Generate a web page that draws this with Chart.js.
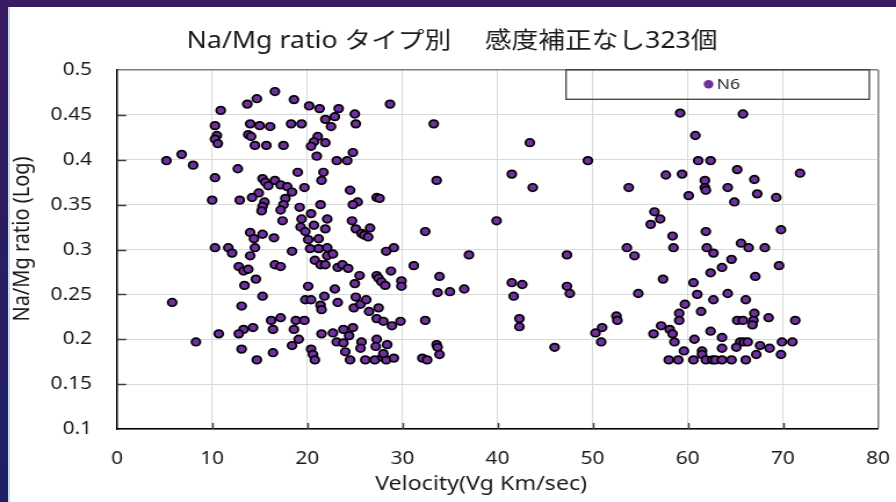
<!DOCTYPE html>
<html>
<head>
<meta charset="utf-8">
<script src="https://cdn.jsdelivr.net/npm/chart.js@4.4.1/dist/chart.umd.min.js"></script>
<style>
  html, body { margin: 0; padding: 0; }
  body {
    width: 896px; height: 502px; overflow: hidden; position: relative;
    background: linear-gradient(180deg, #3a1b60 0%, #2a1d63 50%, #1d2064 100%);
  }
  #panel {
    position: absolute; left: 8px; top: 7px; right: 0; bottom: 0;
    background: #ffffff; border-left: 2px solid #c4d8ef;
  }
  #wrap {
    position: absolute; left: 0; top: 0; width: 772px; height: 502px;
    transform: scaleX(1.16062); transform-origin: 0 0;
  }
</style>
</head>
<body>
<div id="panel"></div>
<div id="wrap"><canvas id="c" width="772" height="502"></canvas></div>
<script>
// Meteor spectra: Na/Mg intensity ratio against geocentric velocity (type N6)
const chartTitle = 'Na/Mg ratio タイプ別　 感度補正なし323個';
const seriesName = 'N6';
const xAxisTitle = 'Velocity(Vg Km/sec)';
const yAxisTitle = 'Na/Mg ratio (Log)';

const xTickValues = [0, 10, 20, 30, 40, 50, 60, 70, 80];
const xTickLabels = ['0', '10', '20', '30', '40', '50', '60', '70', '80'];
const yTickValues = [0.1, 0.15, 0.2, 0.25, 0.3, 0.35, 0.4, 0.45, 0.5];
const yTickLabels = ['0.1', '0.15', '0.2', '0.25', '0.3', '0.35', '0.4', '0.45', '0.5'];

// velocity (km/s)
const velocity = [
  10.9, 10.3, 10.5, 10.3, 10.6, 6.8, 5.2, 8.0, 10.3, 10.0, 10.3, 11.7, 12.1, 5.8, 10.7, 8.3,
  16.6, 14.7, 13.7, 18.6, 20.2, 21.3, 21.9, 14.0, 15.0, 16.1, 18.3, 19.4, 13.8, 14.1, 14.5, 15.7,
  17.5, 21.1, 20.7, 21.9, 20.4, 21.0, 12.7, 19.0, 15.3, 16.6, 21.7, 21.5, 15.6, 15.9, 17.2, 17.9,
  18.4, 19.7, 14.9, 14.2, 12.9, 15.5, 15.3, 15.2, 17.7, 17.5, 17.2, 17.4, 19.2, 20.4, 21.4, 19.4,
  19.3, 19.8, 20.7, 22.1, 21.9, 14.0, 14.4, 15.3, 16.5, 14.5, 14.0, 18.4, 20.1, 20.3, 21.2, 21.2,
  22.1, 20.8, 21.4, 21.9, 16.6, 17.2, 12.8, 13.3, 13.8, 14.6, 13.4, 15.3, 13.1, 20.1, 19.8, 20.4,
  21.8, 21.4, 21.5, 16.2, 17.2, 18.8, 19.7, 16.4, 14.3, 13.3, 12.8, 18.6, 19.1, 18.4, 21.5, 13.1,
  16.4, 14.7, 20.4, 20.6, 20.8,
  28.7, 23.3, 22.9, 22.5, 25.0, 25.1, 24.8, 23.1, 24.2, 24.5, 27.3, 27.6, 25.3, 24.8, 24.7, 25.1,
  25.7, 26.0, 26.6, 26.4, 32.4, 29.1, 28.3, 22.1, 22.7, 23.2, 23.7, 24.3, 31.2, 25.5, 25.0, 27.3,
  27.5, 27.8, 28.2, 28.8, 29.9, 29.9, 22.9, 23.2, 25.1, 24.9, 25.6, 26.2, 26.5, 27.5, 27.3, 28.0,
  28.9, 29.8, 32.4, 22.7, 23.8, 24.8, 23.1, 24.4, 23.8, 24.0, 24.5, 25.7, 25.6, 27.3, 27.2, 28.4,
  26.1, 27.1, 27.9, 28.3, 29.1, 28.0, 32.1, 32.6,
  33.3, 33.6, 37.0, 33.9, 33.7, 35.0, 36.5, 33.6, 33.7, 33.9, 39.9, 43.4, 41.5, 43.7, 41.5, 42.6,
  41.7, 42.3, 42.3, 46.0, 49.5, 47.3, 47.3, 47.6, 50.3, 51.0, 50.9,
  59.2, 65.8, 60.8, 61.1, 62.4, 65.2, 57.7, 59.4, 53.8, 61.8, 61.8, 61.9, 64.2, 60.1, 64.9, 56.5,
  57.1, 56.1, 58.4, 61.9, 65.6, 66.4, 53.6, 54.4, 58.5, 62.0, 62.7, 64.6, 63.6, 62.4, 57.4, 60.6,
  54.8, 61.0, 64.2, 62.7, 66.1, 59.7, 59.1, 61.4, 59.1, 52.5, 52.6, 57.2, 58.1, 56.4, 58.4, 58.6,
  60.7, 62.4, 63.6, 63.6, 65.2, 65.8, 65.5, 65.9, 65.1, 66.3, 59.6, 61.5, 61.5, 58.0, 59.0, 60.6,
  61.9, 62.6, 62.9, 63.6, 64.6, 66.1,
  71.8, 67.0, 67.3, 69.3, 69.8, 68.1, 69.6, 67.1, 67.0, 66.9, 68.5, 71.3, 66.8, 67.6, 68.6, 69.9,
  71.0, 67.2, 69.8
];

// Na/Mg ratio (log), same order as velocity
const naMgRatio = [
  0.455, 0.438, 0.427, 0.423, 0.418, 0.406, 0.399, 0.394, 0.380, 0.355, 0.302, 0.302, 0.296, 0.241, 0.206, 0.197,
  0.476, 0.468, 0.462, 0.467, 0.460, 0.457, 0.445, 0.440, 0.438, 0.437, 0.440, 0.440, 0.428, 0.426, 0.416, 0.416,
  0.416, 0.426, 0.420, 0.419, 0.415, 0.404, 0.390, 0.386, 0.379, 0.377, 0.386, 0.377, 0.375, 0.371, 0.372, 0.370,
  0.364, 0.369, 0.363, 0.358, 0.355, 0.353, 0.348, 0.343, 0.357, 0.350, 0.344, 0.332, 0.347, 0.340, 0.350, 0.334,
  0.325, 0.320, 0.327, 0.334, 0.323, 0.319, 0.312, 0.317, 0.313, 0.302, 0.293, 0.298, 0.311, 0.301, 0.312, 0.301,
  0.302, 0.288, 0.283, 0.283, 0.283, 0.281, 0.281, 0.276, 0.278, 0.267, 0.260, 0.248, 0.237, 0.259, 0.244, 0.244,
  0.248, 0.238, 0.233, 0.221, 0.224, 0.221, 0.221, 0.211, 0.213, 0.211, 0.206, 0.211, 0.200, 0.193, 0.206, 0.189,
  0.185, 0.177, 0.189, 0.183, 0.177,
  0.462, 0.457, 0.448, 0.437, 0.451, 0.440, 0.408, 0.399, 0.399, 0.366, 0.358, 0.357, 0.353, 0.350, 0.332, 0.323,
  0.318, 0.316, 0.324, 0.314, 0.320, 0.302, 0.298, 0.293, 0.295, 0.280, 0.283, 0.279, 0.282, 0.271, 0.262, 0.271,
  0.268, 0.264, 0.260, 0.276, 0.265, 0.259, 0.256, 0.241, 0.247, 0.235, 0.239, 0.244, 0.231, 0.235, 0.223, 0.220,
  0.215, 0.220, 0.221, 0.207, 0.211, 0.213, 0.197, 0.204, 0.196, 0.186, 0.177, 0.197, 0.190, 0.200, 0.192, 0.194,
  0.177, 0.177, 0.180, 0.177, 0.179, 0.184, 0.179, 0.177,
  0.440, 0.377, 0.294, 0.270, 0.252, 0.253, 0.256, 0.194, 0.191, 0.183, 0.332, 0.419, 0.384, 0.369, 0.263, 0.261,
  0.248, 0.223, 0.214, 0.191, 0.399, 0.294, 0.259, 0.251, 0.207, 0.213, 0.197,
  0.452, 0.451, 0.427, 0.399, 0.399, 0.389, 0.383, 0.384, 0.369, 0.377, 0.369, 0.366, 0.369, 0.360, 0.353, 0.342,
  0.334, 0.328, 0.315, 0.320, 0.307, 0.302, 0.302, 0.293, 0.302, 0.302, 0.296, 0.289, 0.280, 0.274, 0.267, 0.263,
  0.251, 0.250, 0.251, 0.244, 0.244, 0.239, 0.229, 0.231, 0.221, 0.226, 0.221, 0.215, 0.211, 0.206, 0.206, 0.197,
  0.200, 0.209, 0.202, 0.190, 0.221, 0.221, 0.197, 0.197, 0.191, 0.197, 0.187, 0.187, 0.183, 0.177, 0.177, 0.177,
  0.177, 0.177, 0.177, 0.177, 0.177, 0.177,
  0.385, 0.378, 0.362, 0.358, 0.322, 0.302, 0.282, 0.270, 0.229, 0.221, 0.224, 0.221, 0.216, 0.193, 0.190, 0.197,
  0.197, 0.183, 0.183
];

const MARKER_FILL = '#7030a0';
const LATIN = '"Noto Sans", "Noto Sans CJK JP", sans-serif';

// chart heading, axis titles, legend frame and inside tick marks
const decorations = {
  id: 'decorations',
  beforeDatasetsDraw(chart) {
    const {ctx, chartArea: a, scales: {x, y}} = chart;
    ctx.save();
    ctx.strokeStyle = '#404040';
    ctx.lineWidth = 1.5;
    ctx.beginPath();
    yTickValues.slice(1, -1).forEach(v => {
      const py = Math.round(y.getPixelForValue(v)) + 0.5;
      ctx.moveTo(a.left, py); ctx.lineTo(a.left + 8, py);
    });
    xTickValues.slice(1, -1).forEach(v => {
      const px = Math.round(x.getPixelForValue(v)) + 0.5;
      ctx.moveTo(px, a.bottom); ctx.lineTo(px, a.bottom - 6);
    });
    ctx.stroke();
    ctx.restore();
  },
  afterDatasetsDraw(chart) {
    const {ctx} = chart;
    ctx.save();
    ctx.fillStyle = '#1a1a1a';
    ctx.textAlign = 'center';
    ctx.textBaseline = 'middle';
    // heading
    ctx.font = '23px ' + LATIN;
    ctx.fillText(chartTitle, 389.5, 41.5);
    // axis titles
    ctx.font = '20px ' + LATIN;
    ctx.fillText(xAxisTitle, 414.5, 484);
    ctx.save();
    ctx.translate(19, 239);
    ctx.rotate(-Math.PI / 2);
    ctx.fillText(yAxisTitle, 0, 0);
    ctx.restore();
    // legend frame
    ctx.strokeStyle = '#404040';
    ctx.lineWidth = 1.3;
    ctx.strokeRect(487.7, 69.8, 261.3, 29.5);
    ctx.fillStyle = MARKER_FILL;
    ctx.beginPath();
    ctx.arc(610.5, 84.2, 4.2, 0, Math.PI * 2);
    ctx.fill();
    ctx.fillStyle = '#262626';
    ctx.font = '15px ' + LATIN;
    ctx.textAlign = 'left';
    ctx.fillText(chart.data.datasets[0].label, 617.5, 85);
    ctx.restore();
  }
};

const points = velocity.map((v, i) => ({x: v, y: naMgRatio[i]}));

new Chart(document.getElementById('c'), {
  type: 'scatter',
  data: {
    datasets: [{
      label: seriesName,
      data: points,
      backgroundColor: MARKER_FILL,
      borderColor: '#000000',
      borderWidth: 1.7,
      pointRadius: 3.8,
      pointHoverRadius: 3.8
    }]
  },
  options: {
    responsive: false,
    animation: false,
    events: [],
    layout: { padding: { left: 4, right: 15.5, top: 70, bottom: 8 } },
    plugins: { legend: { display: false }, tooltip: { enabled: false }, title: { display: false } },
    scales: {
      x: {
        type: 'linear', min: 0, max: 80,
        afterBuildTicks: s => { s.ticks = xTickValues.map(v => ({value: v})); },
        afterFit: s => { s.height = 65; s.paddingLeft = 0; s.paddingRight = 0; },
        ticks: {
          padding: 19, color: '#1a1a1a',
          font: { family: LATIN, size: 18 },
          callback: v => xTickLabels[xTickValues.indexOf(v)]
        },
        grid: {
          drawTicks: false,
          color: c => (c.tick && c.tick.value === 80) ? '#7f7f7f' : '#d9d9d9',
          lineWidth: c => (c.tick && c.tick.value === 80) ? 1.5 : 1
        },
        border: { color: '#000000', width: 1.5 },
        title: { display: false, text: xAxisTitle }
      },
      y: {
        type: 'linear', min: 0.1, max: 0.5,
        afterBuildTicks: s => { s.ticks = yTickValues.map(v => ({value: v})); },
        afterFit: s => { s.width = 96.8; s.paddingTop = 0; s.paddingBottom = 0; },
        ticks: {
          padding: 21.5, color: '#1a1a1a',
          font: { family: LATIN, size: 18 },
          callback: v => yTickLabels[yTickValues.indexOf(v)]
        },
        grid: {
          drawTicks: false,
          color: c => (c.tick && c.tick.value === 0.5) ? '#7f7f7f' : '#d9d9d9',
          lineWidth: c => (c.tick && c.tick.value === 0.5) ? 1.5 : 1
        },
        border: { color: '#000000', width: 1.5 },
        title: { display: false, text: yAxisTitle }
      }
    }
  },
  plugins: [decorations]
});
</script>
</body>
</html>
